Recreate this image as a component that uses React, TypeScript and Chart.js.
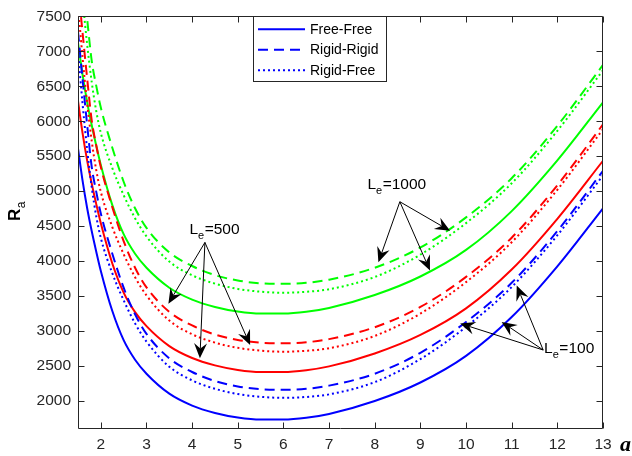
import React, { useEffect, useRef } from 'react';
import { Chart, registerables } from 'chart.js';

Chart.register(...registerables);

// wavenumber a
const aValues = [1.5, 1.6, 1.7, 1.8, 1.9, 2, 2.25, 2.5, 2.75, 3, 3.5, 4, 4.5, 5, 5.5, 6, 6.5, 7, 8, 9, 10, 11, 12, 13];

// Le = 100 (blue)
const blueFreeFree = [5610, 5150, 4760, 4430, 4135, 3860, 3290, 2870, 2590, 2390, 2105, 1935, 1830, 1765, 1735, 1735, 1760, 1815, 2000, 2265, 2645, 3200, 3925, 4755];
const blueRigidRigid = [7280, 6600, 5950, 5350, 4990, 4680, 4110, 3620, 3240, 2960, 2610, 2415, 2285, 2208, 2168, 2160, 2175, 2220, 2390, 2690, 3130, 3690, 4430, 5290];
const blueRigidFree = [7000, 6250, 5600, 5060, 4640, 4330, 3830, 3440, 3110, 2850, 2490, 2295, 2175, 2100, 2060, 2045, 2058, 2095, 2270, 2600, 3060, 3630, 4370, 5225];

// Le = 500 (red)
const redFreeFree = [6290, 5830, 5440, 5110, 4815, 4540, 3970, 3550, 3270, 3070, 2785, 2615, 2510, 2445, 2415, 2415, 2440, 2495, 2680, 2945, 3325, 3880, 4605, 5435];
const redRigidRigid = [7945, 7265, 6615, 6015, 5655, 5345, 4775, 4285, 3905, 3625, 3275, 3080, 2950, 2873, 2833, 2825, 2840, 2885, 3055, 3345, 3775, 4335, 5085, 5955];
const redRigidFree = [7660, 6910, 6260, 5720, 5300, 4990, 4490, 4100, 3770, 3510, 3150, 2955, 2835, 2760, 2720, 2705, 2718, 2755, 2930, 3250, 3700, 4270, 5020, 5885];

// Le = 1000 (green)
const greenFreeFree = [7125, 6665, 6275, 5945, 5650, 5375, 4805, 4385, 4105, 3905, 3620, 3450, 3345, 3280, 3250, 3250, 3275, 3330, 3515, 3780, 4160, 4715, 5440, 6270];
const greenRigidRigid = [8795, 8115, 7465, 6865, 6505, 6195, 5625, 5135, 4755, 4475, 4125, 3930, 3800, 3723, 3683, 3675, 3690, 3735, 3905, 4195, 4625, 5185, 5935, 6805];
const greenRigidFree = [8503, 7753, 7103, 6563, 6143, 5833, 5333, 4943, 4613, 4353, 3993, 3798, 3678, 3603, 3563, 3548, 3561, 3598, 3773, 4093, 4543, 5113, 5863, 6728];

const xTicks = [2, 3, 4, 5, 6, 7, 8, 9, 10, 11, 12, 13];
const yTicks = [2000, 2500, 3000, 3500, 4000, 4500, 5000, 5500, 6000, 6500, 7000, 7500];

const legendLabels = ['Free-Free', 'Rigid-Rigid', 'Rigid-Free'];

// annotation anchors in data coordinates [a, Ra]
const le500Text = [3.94, 4390];
const le500Origin = [4.28, 4267];
const le500Tips = [[3.48, 3392], [4.17, 2611], [5.27, 2800]];
const le1000Text = [7.84, 5029];
const le1000Origin = [8.55, 4849];
const le1000Tips = [[8.08, 3983], [9.21, 3865], [9.65, 4433]];
const le100Text = [11.71, 2686];
const le100Origin = [11.69, 2729];
const le100Tips = [[9.87, 3108], [10.78, 3131], [11.11, 3652]];

const FONT = '"Liberation Sans", Arial, Helvetica, sans-serif';
const AXIS_COLOR = '#262626';
const BLUE = '#0000FF';
const RED = '#FF0000';
const GREEN = '#00FF00';
const SOLID: number[] = [];
const DASHED = [10, 6];
const DOTTED = [2, 3];

function drawArrow(ctx: CanvasRenderingContext2D, x0: number, y0: number, x1: number, y1: number) {
  const dx = x1 - x0;
  const dy = y1 - y0;
  const len = Math.hypot(dx, dy);
  const ux = dx / len;
  const uy = dy / len;
  const nx = -uy;
  const ny = ux;
  const L = 15;
  const W = 6.5;
  const notch = 0.65;
  ctx.beginPath();
  ctx.moveTo(x0, y0);
  ctx.lineTo(x1 - ux * L * notch, y1 - uy * L * notch);
  ctx.stroke();
  ctx.beginPath();
  ctx.moveTo(x1, y1);
  ctx.lineTo(x1 - ux * L + nx * W, y1 - uy * L + ny * W);
  ctx.lineTo(x1 - ux * L * notch, y1 - uy * L * notch);
  ctx.lineTo(x1 - ux * L - nx * W, y1 - uy * L - ny * W);
  ctx.closePath();
  ctx.fill();
}

function drawLe(ctx: CanvasRenderingContext2D, x: number, y: number, value: string) {
  ctx.textAlign = 'left';
  ctx.textBaseline = 'alphabetic';
  ctx.font = `15.5px ${FONT}`;
  ctx.fillText('L', x, y);
  const wL = ctx.measureText('L').width;
  ctx.font = `11px ${FONT}`;
  ctx.fillText('e', x + wL, y + 5);
  const we = ctx.measureText('e').width;
  ctx.font = `15.5px ${FONT}`;
  ctx.fillText('=' + value, x + wL + we + 0.5, y);
}

const matlabPlugin = {
  id: 'matlabDecor',
  afterDatasetsDraw(chart: any) {
    const { ctx, chartArea: ca, scales } = chart;
    const xs = scales.x;
    const ys = scales.y;
    ctx.save();

    // axes box
    ctx.strokeStyle = AXIS_COLOR;
    ctx.lineWidth = 1;
    const L = Math.round(ca.left) + 0.5;
    const R = Math.round(ca.right) - 0.5;
    const T = Math.round(ca.top) + 0.5;
    const B = Math.round(ca.bottom) - 0.5;
    ctx.beginPath();
    ctx.rect(L, T, R - L, B - T);
    ctx.stroke();

    // inward tick marks on all four sides
    const tl = 6;
    ctx.beginPath();
    xTicks.forEach((v) => {
      const px = Math.round(xs.getPixelForValue(v)) + 0.5;
      ctx.moveTo(px, B);
      ctx.lineTo(px, B - tl);
      ctx.moveTo(px, T);
      ctx.lineTo(px, T + tl);
    });
    yTicks.forEach((v) => {
      const py = Math.round(ys.getPixelForValue(v)) + 0.5;
      ctx.moveTo(L, py);
      ctx.lineTo(L + tl, py);
      ctx.moveTo(R, py);
      ctx.lineTo(R - tl, py);
    });
    ctx.stroke();

    // legend
    const lx = ca.left + 175;
    const ly = ca.top;
    const lw = 133;
    const lh = 65;
    ctx.fillStyle = '#FFFFFF';
    ctx.fillRect(lx, ly, lw, lh);
    ctx.strokeStyle = AXIS_COLOR;
    ctx.lineWidth = 1;
    ctx.strokeRect(Math.round(lx) + 0.5, Math.round(ly) + 0.5, lw, lh);
    const dashes = [SOLID, DASHED, DOTTED];
    legendLabels.forEach((label, i) => {
      const yy = ly + 13 + i * 20.5;
      ctx.strokeStyle = BLUE;
      ctx.lineWidth = 2;
      ctx.setLineDash(dashes[i]);
      ctx.beginPath();
      ctx.moveTo(lx + 5, yy);
      ctx.lineTo(lx + 52, yy);
      ctx.stroke();
      ctx.setLineDash([]);
      ctx.fillStyle = '#000000';
      ctx.font = `14px ${FONT}`;
      ctx.textAlign = 'left';
      ctx.textBaseline = 'middle';
      ctx.fillText(label, lx + 57, yy + 0.5);
    });

    // annotations
    ctx.strokeStyle = '#000000';
    ctx.fillStyle = '#000000';
    ctx.lineWidth = 1;
    const groups = [
      { text: le500Text, origin: le500Origin, tips: le500Tips, value: '500' },
      { text: le1000Text, origin: le1000Origin, tips: le1000Tips, value: '1000' },
      { text: le100Text, origin: le100Origin, tips: le100Tips, value: '100' },
    ];
    groups.forEach((g) => {
      const ox = xs.getPixelForValue(g.origin[0]);
      const oy = ys.getPixelForValue(g.origin[1]);
      g.tips.forEach((t) => {
        drawArrow(ctx, ox, oy, xs.getPixelForValue(t[0]), ys.getPixelForValue(t[1]));
      });
      drawLe(ctx, xs.getPixelForValue(g.text[0]), ys.getPixelForValue(g.text[1]), g.value);
    });

    // axis titles
    ctx.fillStyle = '#000000';
    ctx.save();
    ctx.translate(19.5, 221);
    ctx.rotate(-Math.PI / 2);
    ctx.textAlign = 'left';
    ctx.textBaseline = 'alphabetic';
    ctx.font = `bold 17px ${FONT}`;
    ctx.fillText('R', 0, 0);
    const wR = ctx.measureText('R').width;
    ctx.font = `12px ${FONT}`;
    ctx.fillText('a', wR + 0.5, 5);
    ctx.restore();

    ctx.font = `bold italic 22px "Liberation Serif", "Times New Roman", serif`;
    ctx.textAlign = 'left';
    ctx.textBaseline = 'alphabetic';
    ctx.fillText('a', 620, 451);

    ctx.restore();
  },
};

function makeSeries(values: number[], color: string, dash: number[]) {
  return {
    data: aValues.map((a, i) => ({ x: a, y: values[i] })),
    borderColor: color,
    backgroundColor: color,
    borderWidth: 2,
    borderDash: dash,
    pointRadius: 0,
    fill: false,
    cubicInterpolationMode: 'monotone' as const,
  };
}

export default function App() {
  const canvasRef = useRef<HTMLCanvasElement | null>(null);

  useEffect(() => {
    const canvas = canvasRef.current;
    if (!canvas) return;
    const tickFont = { family: FONT, size: 15.5 };
    const chart = new Chart(canvas, {
      type: 'line',
      data: {
        datasets: [
          makeSeries(blueFreeFree, BLUE, SOLID),
          makeSeries(blueRigidRigid, BLUE, DASHED),
          makeSeries(blueRigidFree, BLUE, DOTTED),
          makeSeries(redFreeFree, RED, SOLID),
          makeSeries(redRigidRigid, RED, DASHED),
          makeSeries(redRigidFree, RED, DOTTED),
          makeSeries(greenFreeFree, GREEN, SOLID),
          makeSeries(greenRigidRigid, GREEN, DASHED),
          makeSeries(greenRigidFree, GREEN, DOTTED),
        ],
      },
      options: {
        responsive: false,
        animation: false,
        devicePixelRatio: 1,
        layout: { padding: { top: 14, right: 29, bottom: 0, left: 0 } },
        plugins: {
          legend: { display: false },
          tooltip: { enabled: false },
          title: { display: false },
        },
        scales: {
          x: {
            type: 'linear',
            min: 1.5,
            max: 13,
            afterBuildTicks: (s: any) => {
              s.ticks = xTicks.map((v) => ({ value: v }));
            },
            afterFit: (s: any) => {
              s.height = 27;
            },
            grid: { display: false, drawTicks: false, tickLength: 0 },
            border: { display: false },
            ticks: {
              padding: 6,
              color: AXIS_COLOR,
              font: tickFont,
              autoSkip: false,
              maxRotation: 0,
              callback: (v: any) => String(v),
            },
          },
          y: {
            type: 'linear',
            min: 1600,
            max: 7500,
            afterBuildTicks: (s: any) => {
              s.ticks = yTicks.map((v) => ({ value: v }));
            },
            afterFit: (s: any) => {
              s.width = 78;
            },
            grid: { display: false, drawTicks: false, tickLength: 0 },
            border: { display: false },
            ticks: {
              padding: 7,
              color: AXIS_COLOR,
              font: tickFont,
              autoSkip: false,
              callback: (v: any) => String(v),
            },
          },
        },
      },
      plugins: [matlabPlugin],
    });
    return () => {
      chart.destroy();
    };
  }, []);

  return (
    <div style={{ position: 'fixed', left: 0, top: 0, width: 632, height: 456, background: '#FFFFFF' }}>
      <canvas ref={canvasRef} width={632} height={456} style={{ width: 632, height: 456, display: 'block' }} />
    </div>
  );
}
